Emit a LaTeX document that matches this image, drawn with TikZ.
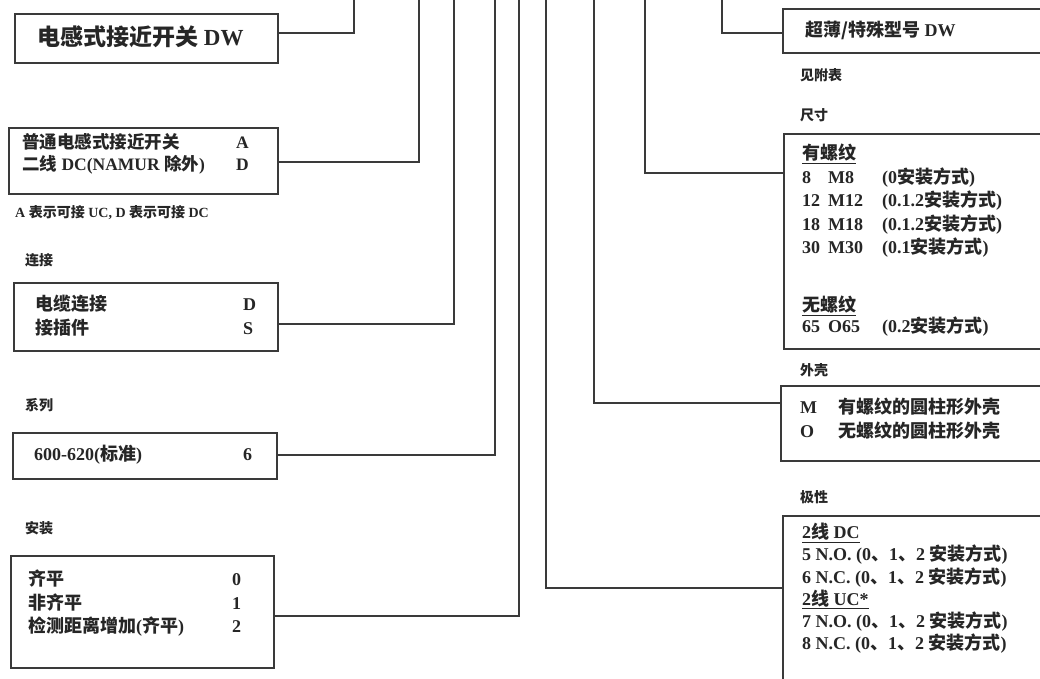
\documentclass[tikz,border=0pt]{standalone}
\usepackage{fontspec}
\setmainfont{Liberation Serif}
\newfontfamily\cjk{Noto Sans CJK SC}
\newcommand\zh[1]{{\cjk\bfseries #1}}
\newcommand\colw[2]{\makebox[#1][l]{#2}}
\definecolor{linec}{HTML}{3A3A3A}
\definecolor{txtc}{HTML}{262626}
\tikzset{
  box/.style={draw=linec, line width=1.5pt, rectangle, inner sep=0pt, anchor=north west},
  wire/.style={draw=linec, line width=1.5pt},
  txt/.style={text=txtc, inner sep=0pt, anchor=north west, align=left, font=\bfseries\fontsize{18}{23.5}\selectfont},
  big/.style={text=txtc, inner sep=0pt, anchor=west, font=\bfseries\fontsize{23}{28}\selectfont},
  lbl/.style={text=txtc, inner sep=0pt, anchor=west, font=\bfseries\fontsize{14}{17}\selectfont},
}
\begin{document}
\begin{tikzpicture}[x=1pt,y=-1pt]
\useasboundingbox (0,0) rectangle (1040,678);
\clip (0,0) rectangle (1040,678);
\fill[white] (0,0) rectangle (1040,678);

% ---- left boxes ----
\node[box, minimum width=263pt, minimum height=49pt] (b1) at (14,13) {};
\node[big] (b1t) at (37,37) {\zh{电感式接近开关} DW};

\node[box, minimum width=269pt, minimum height=66pt] (b2) at (8,127) {};
\node[txt, font=\bfseries\fontsize{17.5}{22}\selectfont] (b2t) at (22,133) {\colw{214pt}{\zh{普通电感式接近开关}}A\\\colw{214pt}{\zh{二线} DC(NAMUR \zh{除外})}D};
\node[lbl] (n2) at (15,213) {A \zh{表示可接} UC, D \zh{表示可接} DC};

\node[lbl] (l3) at (25,260) {\zh{连接}};
\node[box, minimum width=264pt, minimum height=68pt] (b3) at (13,282) {};
\node[txt] (b3t) at (35,295) {\colw{208pt}{\zh{电缆连接}}D\\\colw{208pt}{\zh{接插件}}S};

\node[lbl] (l4) at (25,405) {\zh{系列}};
\node[box, minimum width=264pt, minimum height=46pt] (b4) at (12,432) {};
\node[txt, anchor=west] (b4t) at (34,455) {\colw{209pt}{600-620(\zh{标准})}6};

\node[lbl] (l5) at (25,528) {\zh{安装}};
\node[box, minimum width=263pt, minimum height=112pt] (b5) at (10,555) {};
\node[txt] (b5t) at (28,570) {\colw{204pt}{\zh{齐平}}0\\\colw{204pt}{\zh{非齐平}}1\\\colw{204pt}{\zh{检测距离增加}(\zh{齐平})}2};

% ---- right boxes ----
\node[box, minimum width=300pt, minimum height=44pt] (r1) at (782,8) {};
\node[txt, anchor=west] (r1t) at (805,30) {\zh{超薄/特殊型号} DW};
\node[lbl] (lr1) at (800,75) {\zh{见附表}};
\node[lbl] (lr2) at (800,115) {\zh{尺寸}};

\node[box, minimum width=300pt, minimum height=215pt] (r2) at (783,133) {};
\node[txt] (r2t) at (802,144) {\underline{\zh{有螺纹}}\\
\colw{26pt}{8}\colw{54pt}{M8}(0\zh{安装方式})\\
\colw{26pt}{12}\colw{54pt}{M12}(0.1.2\zh{安装方式})\\
\colw{26pt}{18}\colw{54pt}{M18}(0.1.2\zh{安装方式})\\
\colw{26pt}{30}\colw{54pt}{M30}(0.1\zh{安装方式})};
\node[txt, font=\bfseries\fontsize{18}{20.5}\selectfont] (r2u) at (802,296) {\underline{\zh{无螺纹}}\\
\colw{26pt}{65}\colw{54pt}{O65}(0.2\zh{安装方式})};

\node[lbl] (lr3) at (800,370) {\zh{外壳}};
\node[box, minimum width=300pt, minimum height=75pt] (r3) at (780,385) {};
\node[txt] (r3t) at (800,398) {\colw{38pt}{M}\zh{有螺纹的圆柱形外壳}\\\colw{38pt}{O}\zh{无螺纹的圆柱形外壳}};

\node[lbl] (lr4) at (800,497) {\zh{极性}};
\node[box, minimum width=300pt, minimum height=200pt] (r4) at (782,515) {};
\node[txt, font=\bfseries\fontsize{18}{22.2}\selectfont] (r4t) at (802,523) {\underline{2\zh{线} DC}\\
5 N.O. (0\zh{、}1\zh{、}2 \zh{安装方式})\\
6 N.C. (0\zh{、}1\zh{、}2 \zh{安装方式})\\
\underline{2\zh{线} UC*}\\
7 N.O. (0\zh{、}1\zh{、}2 \zh{安装方式})\\
8 N.C. (0\zh{、}1\zh{、}2 \zh{安装方式})};

% ---- bus ends at top ----
\coordinate (e1) at (354,0);
\coordinate (e2) at (419,0);
\coordinate (e3) at (454,0);
\coordinate (e4) at (495,0);
\coordinate (e5) at (519,0);
\coordinate (f4) at (546,0);
\coordinate (f3) at (594,0);
\coordinate (f2) at (645,0);
\coordinate (f1) at (722,0);

% ---- connectors ----
\draw[wire] (b1.east |- 0,33) -| (e1);
\draw[wire] (b2.east |- 0,162) -| (e2);
\draw[wire] (b3.east |- 0,324) -| (e3);
\draw[wire] (b4.east |- 0,455) -| (e4);
\draw[wire] (b5.east |- 0,616) -| (e5);
\draw[wire] (r4.west |- 0,588) -| (f4);
\draw[wire] (r3.west |- 0,403) -| (f3);
\draw[wire] (r2.west |- 0,173) -| (f2);
\draw[wire] (r1.west |- 0,33) -| (f1);
\end{tikzpicture}
\end{document}
